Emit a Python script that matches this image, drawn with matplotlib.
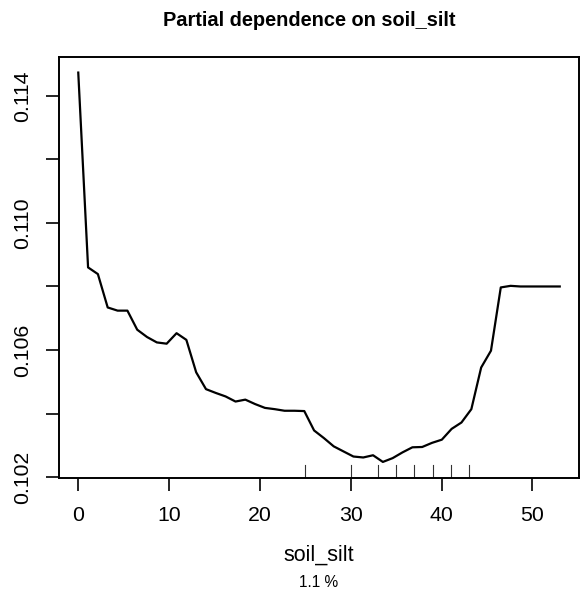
import matplotlib
matplotlib.use("Agg")
import matplotlib.pyplot as plt

plt.rcParams["font.family"] = ["Liberation Sans", "DejaVu Sans"]

# Data entry: partial dependence grid
silt_grid = [
    0.00, 1.08, 2.16, 3.24, 4.33, 5.41, 6.49, 7.57, 8.65, 9.73,
    10.82, 11.90, 12.98, 14.06, 15.14, 16.22, 17.31, 18.39, 19.47, 20.55,
    21.63, 22.71, 23.80, 24.88, 25.96, 27.04, 28.12, 29.20, 30.29, 31.37,
    32.45, 33.53, 34.61, 35.69, 36.78, 37.86, 38.94, 40.02, 41.10, 42.18,
    43.27, 44.35, 45.43, 46.51, 47.59, 48.67, 49.76, 50.84, 51.92, 53.00,
]
partial_dep = [
    0.11473, 0.10860, 0.10839, 0.10734, 0.10724, 0.10724, 0.10664, 0.10641, 0.10624, 0.10620,
    0.10653, 0.10632, 0.10530, 0.10477, 0.10465, 0.10454, 0.10438, 0.10444, 0.10430, 0.10418,
    0.10414, 0.10409, 0.10409, 0.10408, 0.10347, 0.10323, 0.10297, 0.10281, 0.10265, 0.10262,
    0.10269, 0.10248, 0.10260, 0.10278, 0.10294, 0.10295, 0.10308, 0.10318, 0.10352, 0.10372,
    0.10414, 0.10545, 0.10598, 0.10797, 0.10802, 0.10800, 0.10800, 0.10800, 0.10800, 0.10800,
]
# deciles of the observed soil_silt values (rug)
rug_deciles = [25, 30, 33, 35, 37, 39, 41, 43]

x_ticks = [0, 10, 20, 30, 40, 50]
y_ticks = [0.102, 0.104, 0.106, 0.108, 0.110, 0.112, 0.114]
y_ticklabels = ["0.102", "", "0.106", "", "0.110", "", "0.114"]

fig = plt.figure(figsize=(5.82, 5.95), dpi=100)
ax = fig.add_axes([59 / 582, 1 - 477.5 / 595, 520 / 582, 420.5 / 595])

ax.plot(silt_grid, partial_dep, color="black", linewidth=1.6)

# R-style axis ranges (4% expansion)
xr = max(silt_grid) - min(silt_grid)
yr = max(partial_dep) - min(partial_dep)
ax.set_xlim(min(silt_grid) - 0.04 * xr, max(silt_grid) + 0.04 * xr)
ax.set_ylim(min(partial_dep) - 0.04 * yr, max(partial_dep) + 0.04 * yr)

# rug of deciles along the bottom
for r in rug_deciles:
    ax.axvline(r, ymin=0, ymax=0.03, color="#333333", linewidth=0.8)

ax.set_xticks(x_ticks)
ax.set_yticks(y_ticks)
ax.set_yticklabels(y_ticklabels, rotation=90, va="center")
ax.tick_params(axis="both", direction="out", length=9.5, width=1.2, labelsize=15.3)
ax.tick_params(axis="x", pad=11)
ax.tick_params(axis="y", pad=10)
for s in ax.spines.values():
    s.set_linewidth(1.4)

ax.set_xlabel("soil_silt", fontsize=15.5, labelpad=14)
fig.text(0.5 * (59 + 579) / 582, 1 - 582.5 / 595, "1.1 %", fontsize=11.2,
         ha="center", va="center")
fig.text(309 / 582, 1 - 21 / 595, "Partial dependence on soil_silt",
         fontsize=14.4, fontweight="bold", ha="center", va="center")

fig.savefig("out.png", dpi=100)
